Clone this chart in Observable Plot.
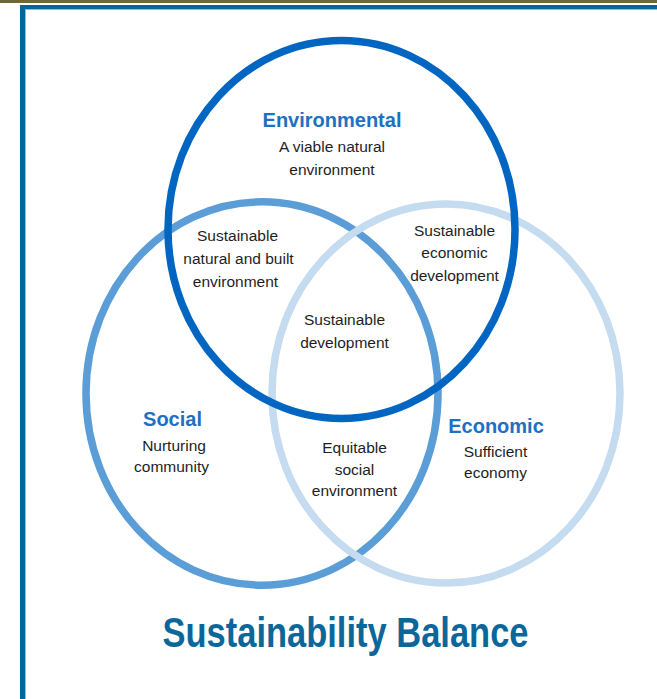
<!DOCTYPE html>
<html>
<head>
<meta charset="utf-8">
<script src="https://cdn.jsdelivr.net/npm/d3@7"></script>
<script src="https://cdn.jsdelivr.net/npm/@observablehq/plot@0.6"></script>
<style>
  html, body { margin: 0; padding: 0; background: #fff; width: 657px; height: 699px; overflow: hidden; }
  #chart { position: absolute; left: 0; top: 0; }
  #topbar { position: absolute; left: 0; top: 0; width: 657px; height: 3px; background: #6b6a36; }
  #frame { position: absolute; left: 20px; top: 5px; width: 700px; height: 760px;
           border-left: 5px solid #00679b; border-top: 4px solid #00679b;
           box-shadow: inset 1px 1px 0 #8cbbd9; }
</style>
</head>
<body>
<div id="chart"></div>
<div id="topbar"></div>
<div id="frame"></div>
<script>
// ---- Venn circles (draw order: back to front) ----
const circleNames  = ["Economic", "Social", "Environmental"];
const circleX      = [445.5, 261.5, 341];
const circleY      = [393, 393, 229];
const circleR      = [174, 176, 173.5];
const circleColors = ["#c5dbf0", "#5b9dd7", "#0066c2"];

// ---- Labels (one entry per line) ----
const labelText = [
  "Environmental", "A viable natural", "environment",
  "Sustainable", "natural and built", "environment",
  "Sustainable", "economic", "development",
  "Sustainable", "development",
  "Social", "Nurturing", "community",
  "Equitable", "social", "environment",
  "Economic", "Sufficient", "economy"
];
const labelX = [
  331.5, 331.5, 331.5,
  237, 238, 235,
  454, 454, 454,
  344, 344,
  172, 173.5, 171,
  354, 354, 354,
  495.5, 495, 495
];
const labelY = [
  126.7, 151.7, 174,
  240, 263, 286,
  235, 257.5, 280,
  324, 347,
  425, 450, 471,
  452.7, 474, 495,
  432.7, 456, 477
];
const labelKind = [
  "head", "body", "body",
  "body", "body", "body",
  "body", "body", "body",
  "body", "body",
  "head", "body", "body",
  "body", "body", "body",
  "head", "body", "body"
];

const titleText = ["Sustainability Balance"];
const titleX = [345];
const titleY = [646.5];

// ---- build tables ----
const circles = circleNames.map((name, i) => ({name, x: circleX[i], y: circleY[i], r: circleR[i], color: circleColors[i]}));
const labels = labelText.map((t, i) => ({text: t, x: labelX[i], y: labelY[i], kind: labelKind[i]}));
const heads = labels.filter(d => d.kind === "head");
const bodies = labels.filter(d => d.kind === "body");
const titles = titleText.map((t, i) => ({text: t, x: titleX[i], y: titleY[i]}));

// ellipse symbol (vertical aspect of the reference diagram)
const ASPECT = 189 / 173.5;
const K = 0.5522847498;
const ellipse = {
  draw(ctx, size) {
    const rx = Math.sqrt(size / Math.PI), ry = rx * ASPECT;
    ctx.moveTo(rx, 0);
    ctx.bezierCurveTo(rx, ry * K, rx * K, ry, 0, ry);
    ctx.bezierCurveTo(-rx * K, ry, -rx, ry * K, -rx, 0);
    ctx.bezierCurveTo(-rx, -ry * K, -rx * K, -ry, 0, -ry);
    ctx.bezierCurveTo(rx * K, -ry, rx, -ry * K, rx, 0);
    ctx.closePath();
  }
};

const FONT = "'Liberation Sans', Arial, Helvetica, sans-serif";
const BODY = 15.5, HEAD = 20, TITLE = 43;

const chart = Plot.plot({
  width: 657,
  height: 699,
  margin: 0,
  x: {type: "identity", axis: null},
  y: {type: "identity", axis: null},
  r: {type: "identity"},
  style: {background: "transparent", fontFamily: FONT},
  marks: [
    Plot.dot(circles, {x: "x", y: "y", r: "r", symbol: ellipse, fill: "none", stroke: "color", strokeWidth: 7.5}),
    Plot.text(heads, {x: "x", y: "y", text: "text", fontSize: HEAD, fontWeight: "bold", fill: "#1f6fc2", textAnchor: "middle", lineAnchor: "middle", dy: -0.32 * HEAD}),
    Plot.text(bodies, {x: "x", y: "y", text: "text", fontSize: BODY, fill: "#1e1e1e", textAnchor: "middle", lineAnchor: "middle", dy: -0.32 * BODY}),
    Plot.text(titles, {x: "x", y: "y", text: "text", fontSize: TITLE, fontWeight: "bold", fill: "#0b679a", textAnchor: "middle", lineAnchor: "middle", dy: -0.32 * TITLE, className: "venn-title"})
  ]
});
document.getElementById("chart").appendChild(chart);

// narrow the title like the reference (condensed face)
d3.select(chart).selectAll(".venn-title text")
  .attr("textLength", 366)
  .attr("lengthAdjust", "spacingAndGlyphs");
</script>
</body>
</html>
